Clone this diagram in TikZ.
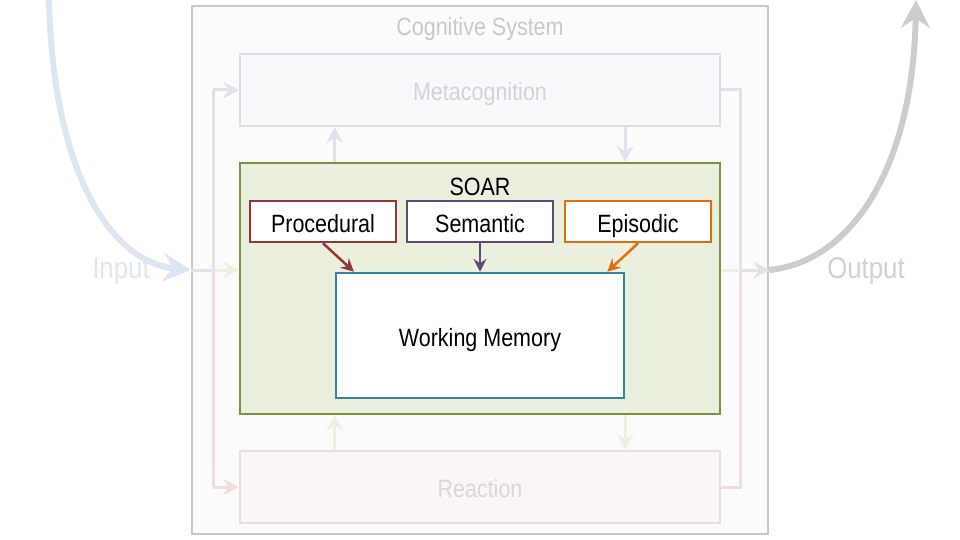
\documentclass[tikz,border=0pt]{standalone}
\usepackage{fontspec}
\setmainfont{Liberation Sans}[FakeStretch=0.86]
\usetikzlibrary{arrows.meta,calc}
\definecolor{outerline}{HTML}{C8C8C8}
\definecolor{outerfill}{HTML}{FBFBFB}
\definecolor{metaline}{HTML}{DDDAE5}
\definecolor{metafill}{HTML}{F9F9FC}
\definecolor{metatext}{HTML}{D3D1DB}
\definecolor{lav}{HTML}{E3DFEB}
\definecolor{soarline}{HTML}{77933C}
\definecolor{soarfill}{HTML}{EBF0DE}
\definecolor{lgreen}{HTML}{EBF1DE}
\definecolor{reactline}{HTML}{EFD9D9}
\definecolor{reactfill}{HTML}{FAF6F6}
\definecolor{reacttext}{HTML}{D9D6D6}
\definecolor{lpink}{HTML}{F2DCDB}
\definecolor{procc}{HTML}{953735}
\definecolor{semc}{HTML}{60497A}
\definecolor{epic}{HTML}{E46C0A}
\definecolor{wmc}{HTML}{31859C}
\definecolor{inc}{HTML}{DCE6F2}
\definecolor{outc}{HTML}{CCCCCC}
\definecolor{outtext}{HTML}{D0D0D0}
\tikzset{
  txt/.style={font=\fontsize{25pt}{30pt}\selectfont, inner sep=0pt, text height=21pt, text depth=0pt},
  bigtxt/.style={font=\fontsize{30pt}{36pt}\selectfont, inner sep=0pt, text height=21.5pt, text depth=0pt},
  box/.style={draw, rectangle, inner sep=0pt, txt},
  membox/.style={box, fill=white, line width=2.5pt, minimum width=146pt, minimum height=41pt},
  conn/.style={line width=3pt, -{Stealth[length=16pt,width=17pt,inset=6pt]}},
  plain/.style={line width=3pt},
  memarrow/.style={line width=2.5pt, -{Stealth[length=13pt,width=13pt,inset=4.5pt]}},
  curvearrow/.style={line width=6pt, -{Stealth[length=28pt,width=29pt,inset=10pt]}}
}
\begin{document}
\begin{tikzpicture}[x=1pt,y=-1pt]
\useasboundingbox (0,0) rectangle (960,540);
% outer system
\node[box, draw=outerline, fill=outerfill, line width=2.5pt, minimum width=576pt, minimum height=528pt] (outer) at (480,270) {};
\node[txt, text=outerline] (cogtitle) at (480,25) {Cognitive System};
% junctions
\coordinate (jl) at (213,270);
\coordinate (jr) at (740,270);
\coordinate (jlt) at (213,90);
\coordinate (jlb) at (213,487);
\coordinate (jrt) at (740,90);
\coordinate (jrb) at (740,487);
% boxes
\node[box, draw=metaline, fill=metafill, line width=2.5pt, minimum width=480pt, minimum height=72pt, text=metatext] (meta) at (480,90) {Metacognition};
\node[box, draw=soarline, fill=soarfill, line width=2.5pt, minimum width=480pt, minimum height=251pt] (soar) at (480,288.5) {};
\node[txt] (soarlabel) at (480,185.5) {SOAR};
\node[box, draw=reactline, fill=reactfill, line width=2.5pt, minimum width=480pt, minimum height=72pt, text=reacttext] (react) at (480,487) {Reaction};
\node[membox, draw=procc] (proc) at (323,221.5) {Procedural};
\node[membox, draw=semc] (sem) at (480,221.5) {Semantic};
\node[membox, draw=epic] (epi) at (638,221.5) {Episodic};
\node[box, fill=white, draw=wmc, line width=2.5pt, minimum width=288pt, minimum height=125pt] (wm) at (480,335.5) {Working Memory};
% left distribution
\draw[plain, lav] (outer.west) -- (jl);
\draw[plain, lav] (jl) -- (jlt);
\draw[conn, lav] (jlt) -- (meta.west);
\draw[conn, lgreen] (jl) -- (soar.west |- jl);
\draw[plain, lpink] (jl) -- (jlb);
\draw[conn, lpink] (jlb) -- (react.west);
% right collection
\draw[plain, lav] (meta.east) -- (jrt) -- (jr);
\draw[plain, lpink] (react.east) -- (jrb) -- (jr);
\draw[plain, lgreen] (soar.east |- jr) -- (jr);
\draw[conn, lav] (jr) -- (outer.east);
% vertical exchanges
\draw[conn, lav] (soar.north -| wm.west) -- (meta.south -| wm.west);
\draw[conn, lav] (meta.south -| wm.east) -- (soar.north -| wm.east);
\draw[conn, lgreen] (react.north -| wm.west) -- (soar.south -| wm.west);
\draw[conn, lgreen] (soar.south -| wm.east) -- (react.north -| wm.east);
% memory arrows
\draw[memarrow, procc] (proc.south) -- ($(wm.north west)!0.066!(wm.north east)$);
\draw[memarrow, semc] (sem.south) -- (wm.north);
\draw[memarrow, epic] (epi.south) -- ($(wm.north west)!0.938!(wm.north east)$);
% input / output
\coordinate (inStart) at (49,-3);
\coordinate (outEnd) at (916,0);
\draw[curvearrow, inc] (inStart) .. controls (52,170) and (110,262) .. (outer.west);
\node[bigtxt, text=inc] (input) at (121,268) {Input};
\draw[curvearrow, outc] (outer.east) .. controls (850,262) and (913,170) .. (outEnd);
\node[bigtxt, text=outtext] (output) at (866,268) {Output};
\end{tikzpicture}
\end{document}
